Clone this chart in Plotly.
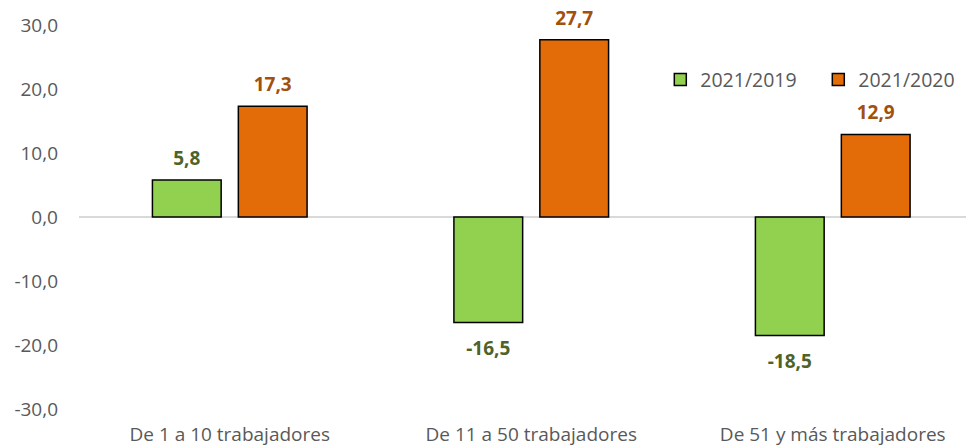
import plotly.graph_objects as go

categories = ["De 1 a 10 trabajadores", "De 11 a 50 trabajadores", "De 51 y más trabajadores"]
series_names = ["2021/2019", "2021/2020"]
values_2019 = [5.8, -16.5, -18.5]
values_2020 = [17.3, 27.7, 12.9]
y_ticks = [30, 20, 10, 0, -10, -20, -30]

bar_colors = ["#92D050", "#E36C09"]
label_colors = ["#4F6228", "#A0500F"]
FONT = "Open Sans"
GRAY = "#595959"

def fmt(v):
    return f"{v:.1f}".replace(".", ",")

x_pos = list(range(len(categories)))

fig = go.Figure()
for i, (name, vals) in enumerate(zip(series_names, [values_2019, values_2020])):
    fig.add_trace(go.Bar(
        x=x_pos, y=vals, name=name,
        marker=dict(color=bar_colors[i], line=dict(color="#000000", width=1.5)),
        offsetgroup=str(i), alignmentgroup="a",
        hoverinfo="skip",
    ))
for i, vals in enumerate([values_2019, values_2020]):
    fig.add_trace(go.Scatter(
        x=x_pos, y=vals, mode="markers+text",
        text=[fmt(v) for v in vals],
        textposition=["top center" if v >= 0 else "bottom center" for v in vals],
        textfont=dict(family=FONT, size=19, color=label_colors[i], weight="bold"),
        marker=dict(size=[15 if v >= 0 else 27 for v in vals], color="rgba(0,0,0,0)",
                    line=dict(width=0, color="rgba(0,0,0,0)")),
        offsetgroup=str(i), alignmentgroup="a",
        showlegend=False, hoverinfo="skip", cliponaxis=False,
    ))

fig.update_layout(
    width=966, height=438,
    margin=dict(l=71, r=0, t=17, b=37, autoexpand=False),
    paper_bgcolor="white", plot_bgcolor="white",
    barmode="group", scattermode="group",
    bargap=0.43, bargroupgap=0.2,
    font=dict(family=FONT, size=19, color=GRAY),
    showlegend=True,
    legend=dict(orientation="h", x=0.6495, xanchor="left", y=0.857, yanchor="middle",
                font=dict(family=FONT, size=19.5, color=GRAY),
                entrywidth=113, entrywidthmode="pixels",
                bgcolor="rgba(0,0,0,0)"),
)
fig.update_xaxes(
    tickvals=x_pos, ticktext=categories, range=[-0.5, 2.4685],
    showgrid=False, showline=False, zeroline=False, ticks="",
    tickfont=dict(family=FONT, size=19, color=GRAY), ticklabelstandoff=12,
)
fig.update_yaxes(
    range=[-30, 30], tickvals=y_ticks, ticktext=[fmt(v) for v in y_ticks],
    showgrid=False, showline=False, ticks="",
    zeroline=True, zerolinecolor="#D9D9D9", zerolinewidth=1.5,
    tickfont=dict(family=FONT, size=19, color=GRAY), ticklabelstandoff=20,
)
fig.write_html("out.html")
